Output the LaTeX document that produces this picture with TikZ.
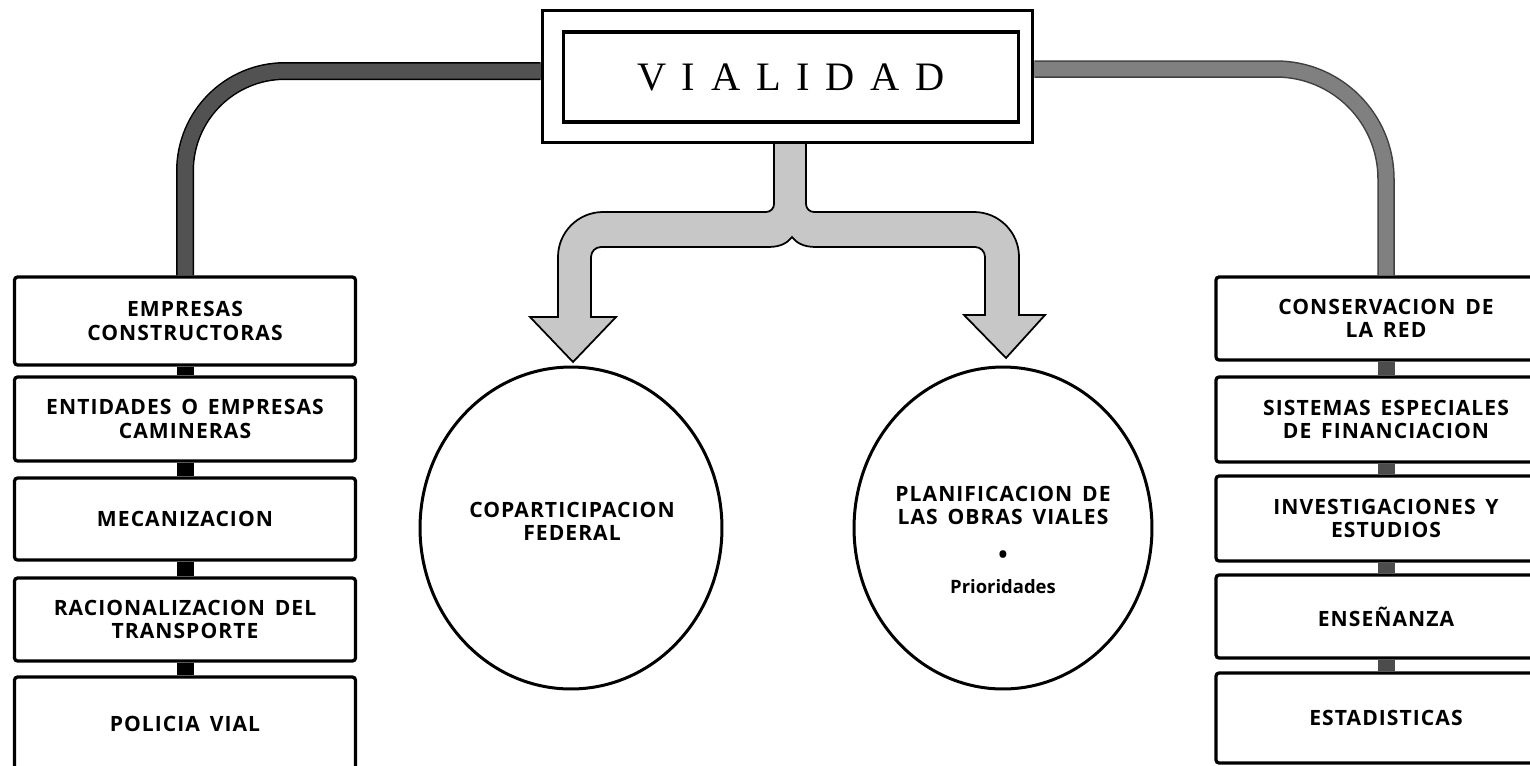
\documentclass[tikz,border=0pt]{standalone}
\usepackage{fontspec}
\usetikzlibrary{shapes.geometric}
\newfontfamily\boxfam[LetterSpace=5,WordSpace=1.5]{Open Sans}
\newfontfamily\titlefam[LetterSpace=39]{Liberation Serif}
\newfontfamily\smallfam{Open Sans}
\begin{document}
\begin{tikzpicture}[x=0.02cm,y=-0.02cm,
  itembox/.style={draw, line width=0.065cm, rounded corners=0.06cm, fill=white,
    align=center, inner sep=0pt,
    font=\boxfam\bfseries\fontsize{12}{13.4}\selectfont},
  leftbox/.style={itembox, minimum width=6.82cm},
  rightbox/.style={itembox, minimum width=6.8cm},
  oval/.style={draw, ellipse, line width=0.06cm, inner sep=0pt},
  ovaltext/.style={align=center, inner sep=0pt,
    font=\boxfam\bfseries\fontsize{12}{13}\selectfont},
  lblock/.style={line width=0.34cm, black},
  rblock/.style={line width=0.34cm, black!70},
  leftband/.style={draw=black, line width=0.03cm, double=black!68, double distance=0.3cm, rounded corners=2cm},
  rightband/.style={draw=black!75, line width=0.03cm, double=black!50, double distance=0.29cm, rounded corners=2.2cm},
  cband/.style={draw=black, line width=0.035cm, fill=black!22}
]
\useasboundingbox (0,0) rectangle (1530,765);

% central branching arrow
\draw[cband] (774,143)
  [rounded corners=0.16cm] -- (774,212)
  [rounded corners=0.9cm] -- (558,212)
  [sharp corners] -- (558,317) -- (530,317) -- (573,362) -- (616,317) -- (591,317)
  [rounded corners=0.2cm] -- (591,247)
  [sharp corners] -- (768,247)
  .. controls (782,247) and (788,242) .. (792,237)
  .. controls (796,242) and (802,247) .. (816,247)
  [rounded corners=0.2cm] -- (985,247)
  [sharp corners] -- (985,315) -- (964,315) -- (1006,358) -- (1045,315) -- (1019,315)
  [rounded corners=0.9cm] -- (1019,212)
  [rounded corners=0.16cm] -- (806,212)
  [sharp corners] -- (806,143) -- cycle;

% title
\node[draw, line width=0.06cm, fill=white, minimum width=9.82cm, minimum height=2.66cm] (T) at (787.5,76.5) {};
\node[draw, line width=0.07cm, minimum width=9.1cm, minimum height=1.8cm, inner sep=0pt,
  font=\titlefam\fontsize{23}{27}\selectfont] (Ti) at (791,77) {VIALIDAD};

% left column
\node[leftbox, minimum height=1.76cm] (L1) at (185,321) {EMPRESAS\\CONSTRUCTORAS};
\node[leftbox, minimum height=1.68cm] (L2) at (185,419) {ENTIDADES O EMPRESAS\\CAMINERAS};
\node[leftbox, minimum height=1.64cm] (L3) at (185,519) {MECANIZACION};
\node[leftbox, minimum height=1.66cm] (L4) at (185,619.5) {RACIONALIZACION DEL\\TRANSPORTE};
\node[leftbox, minimum height=2.06cm, text depth=0.2cm] (L5) at (185,728.5) {POLICIA VIAL};

% right column
\node[rightbox, minimum height=1.66cm] (R1) at (1386,318.5) {CONSERVACION DE\\LA RED};
\node[rightbox, minimum height=1.7cm] (R2) at (1386,419.5) {SISTEMAS ESPECIALES\\DE FINANCIACION};
\node[rightbox, minimum height=1.7cm] (R3) at (1386,518.5) {INVESTIGACIONES Y\\ESTUDIOS};
\node[rightbox, minimum height=1.66cm] (R4) at (1386,616.5) {ENSEÑANZA};
\node[rightbox, minimum height=1.8cm] (R5) at (1386,718) {ESTADISTICAS};

% ellipses
\node[oval, minimum width=6.04cm, minimum height=6.44cm] (E1) at (571,528) {};
\node[oval, minimum width=5.96cm, minimum height=6.44cm] (E2) at (1003,528) {};
\node[ovaltext] (E1t) at (572,521) {COPARTICIPACION\\FEDERAL};
\node[ovaltext] (E2t) at (1003,540) {PLANIFICACION DE\\LAS OBRAS VIALES\\[9pt]{\fontsize{14}{14}\selectfont\textbullet}\\[4pt]{\smallfam\bfseries\fontsize{10.5}{12}\selectfont Prioridades}};

% bands from title
\draw[leftband] ([yshift=0.11cm]T.west) -| (L1.north);
\draw[rightband] ([yshift=0.15cm]T.east) -| (R1.north);

% links between boxes
\draw[lblock] (L1.south) -- (L2.north);
\draw[lblock] (L2.south) -- (L3.north);
\draw[lblock] (L3.south) -- (L4.north);
\draw[lblock] (L4.south) -- (L5.north);
\draw[rblock] (R1.south) -- (R2.north);
\draw[rblock] (R2.south) -- (R3.north);
\draw[rblock] (R3.south) -- (R4.north);
\draw[rblock] (R4.south) -- (R5.north);
\end{tikzpicture}
\end{document}
